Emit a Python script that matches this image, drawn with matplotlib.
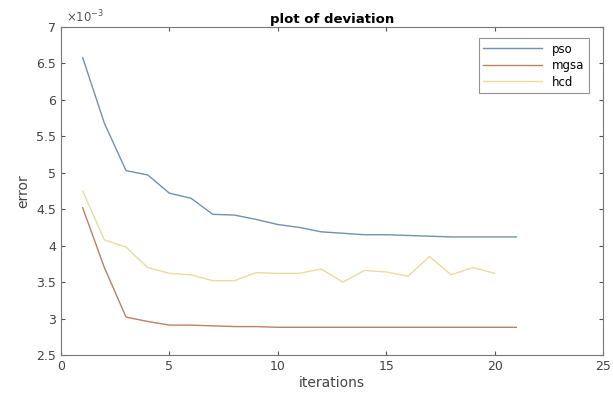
import matplotlib
matplotlib.use("Agg")
import matplotlib.pyplot as plt
import numpy as np

iters_pso = list(range(1, 22))
pso = [6.58, 5.68, 5.03, 4.97, 4.72, 4.65, 4.43, 4.42, 4.36, 4.29, 4.25,
       4.19, 4.17, 4.15, 4.15, 4.14, 4.13, 4.12, 4.12, 4.12, 4.12]
iters_mgsa = list(range(1, 22))
mgsa = [4.52, 3.70, 3.02, 2.96, 2.91, 2.91, 2.90, 2.89, 2.89, 2.88, 2.88,
        2.88, 2.88, 2.88, 2.88, 2.88, 2.88, 2.88, 2.88, 2.88, 2.88]
iters_hcd = list(range(1, 21))
hcd = [4.75, 4.08, 3.98, 3.70, 3.62, 3.60, 3.52, 3.52, 3.63, 3.62, 3.62,
       3.68, 3.50, 3.66, 3.64, 3.58, 3.85, 3.60, 3.70, 3.62]
labels = ["pso", "mgsa", "hcd"]

fig = plt.figure(figsize=(6.13, 3.99), dpi=100)
ax = fig.add_axes([61/613, 44/399, 542/613, 328/399])
scale = 1e-3
ax.plot(iters_pso, np.array(pso)*scale, color="#6e93ad", lw=1.0, label=labels[0])
ax.plot(iters_mgsa, np.array(mgsa)*scale, color="#b98263", lw=1.0, label=labels[1])
ax.plot(iters_hcd, np.array(hcd)*scale, color="#e9dc9e", lw=1.0, label=labels[2])

ax.set_xlim(0, 25)
ax.set_ylim(2.5e-3, 7e-3)
ax.set_xticks([0, 5, 10, 15, 20, 25])
yt = np.arange(2.5, 7.01, 0.5)
ax.set_yticks(yt*scale)
ax.set_yticklabels([("%g" % v) for v in yt])
ax.tick_params(direction="in", top=True, right=True, length=3, labelsize=9,
               colors="#555555", labelcolor="#444444")
for s in ax.spines.values():
    s.set_color("#777777")
    s.set_linewidth(0.8)
ax.text(0.01, 1.005, r"$\times10^{-3}$", transform=ax.transAxes, fontsize=8.5,
        color="#555555", ha="left", va="bottom")
ax.set_title("plot of deviation", fontsize=9.5, fontweight="bold", pad=3)
ax.set_xlabel("iterations", fontsize=10, color="#444444", labelpad=2)
ax.set_ylabel("error", fontsize=10, color="#444444", labelpad=4)
leg = ax.legend(loc="upper right", fontsize=8.5, frameon=True, fancybox=False,
                edgecolor="#777777", handlelength=5.0, borderpad=0.4,
                labelspacing=0.3, bbox_to_anchor=(0.985, 0.985))
leg.get_frame().set_linewidth(0.8)
fig.savefig("out.png", dpi=100)
